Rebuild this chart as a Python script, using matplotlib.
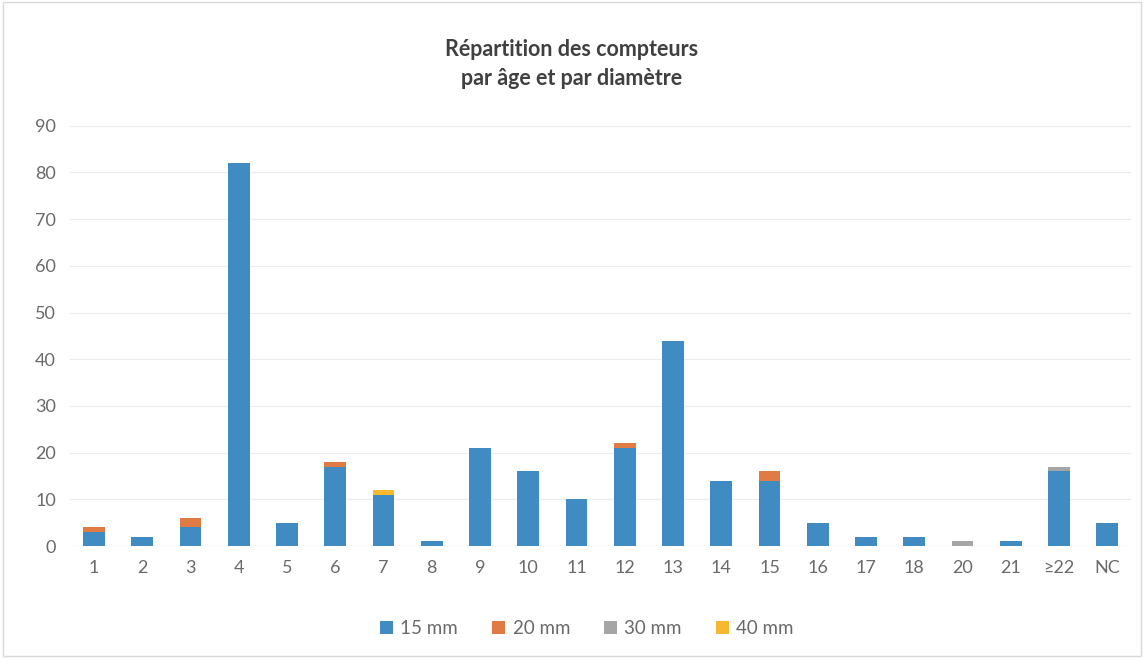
import matplotlib.pyplot as plt
import numpy as np

ages = ["1", "2", "3", "4", "5", "6", "7", "8", "9", "10", "11", "12", "13",
        "14", "15", "16", "17", "18", "20", "21", "≥22", "NC"]
mm15 = [3, 2, 4, 82, 5, 17, 11, 1, 21, 16, 10, 21, 44, 14, 14, 5, 2, 2, 0, 1, 16, 5]
mm20 = [1, 0, 2, 0, 0, 1, 0, 0, 0, 0, 0, 1, 0, 0, 2, 0, 0, 0, 0, 0, 0, 0]
mm30 = [0, 0, 0, 0, 0, 0, 0, 0, 0, 0, 0, 0, 0, 0, 0, 0, 0, 0, 1, 0, 1, 0]
mm40 = [0, 0, 0, 0, 0, 0, 1, 0, 0, 0, 0, 0, 0, 0, 0, 0, 0, 0, 0, 0, 0, 0]

series = [("15 mm", mm15, "#3f8bc2"), ("20 mm", mm20, "#e07b45"),
          ("30 mm", mm30, "#a5a5a5"), ("40 mm", mm40, "#f5b82e")]

plt.rcParams['font.family'] = ['Lato', 'DejaVu Sans']

fig = plt.figure(figsize=(11.44, 6.58), dpi=100)
ax = fig.add_axes([0.061, 0.170, 0.928, 0.639])

x = np.arange(len(ages))
bottom = np.zeros(len(ages))
for name, vals, col in series:
    ax.bar(x, vals, width=0.45, bottom=bottom, color=col, label=name, zorder=3)
    bottom += np.array(vals)

ax.set_ylim(0, 90)
ax.set_xlim(-0.5, len(ages) - 0.5)
ax.set_yticks(range(0, 91, 10))
ax.set_xticks(x)
ax.set_xticklabels(ages)
ax.tick_params(axis='both', length=0, labelsize=13, colors='#6a6a6a', pad=10)
ax.yaxis.grid(True, color='#ececec', linewidth=0.8, zorder=0)
for s in ax.spines.values():
    s.set_visible(False)
ax.axhline(0, color='#d9d9d9', linewidth=0.8, zorder=2)

fig.text(0.5, 0.903, "Répartition des compteurs\npar âge et par diamètre",
         ha='center', va='center', fontsize=15.5, fontweight='bold',
         color='#404040', linespacing=1.5)

fig.legend(loc='center', bbox_to_anchor=(0.513, 0.045), ncol=4, frameon=False,
           fontsize=13.5, handlelength=0.7, handleheight=0.7, handletextpad=0.4,
           columnspacing=1.8, labelcolor='#6a6a6a')

fig.patches.append(plt.Rectangle((0.003, 0.003), 0.994, 0.994, transform=fig.transFigure,
                                 fill=False, edgecolor='#d9d9d9', linewidth=1))

fig.savefig("out.png", dpi=100)
